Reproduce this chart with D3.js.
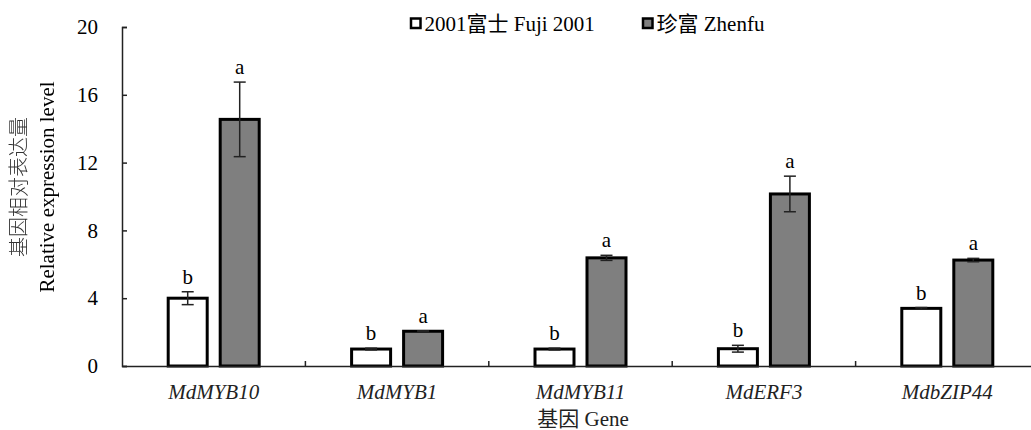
<!DOCTYPE html>
<html>
<head>
<meta charset="utf-8">
<script src="https://cdn.jsdelivr.net/npm/d3@7"></script>
<style>
  html, body { margin: 0; padding: 0; background: #fff; }
  svg { display: block; }
  .gray { filter: grayscale(100%); }
</style>
</head>
<body>
<svg id="chart" width="1031" height="430"></svg>
<script>
const categories = ["MdMYB10", "MdMYB1", "MdMYB11", "MdERF3", "MdbZIP44"];
const seriesNames = ["2001富士 Fuji 2001", "珍富 Zhenfu"];
const fujiValues = [4.0, 1.0, 1.0, 1.02, 3.4];
const fujiErrors = [0.38, 0.05, 0.05, 0.2, 0.05];
const zhenfuValues = [14.55, 2.05, 6.38, 10.15, 6.25];
const zhenfuErrors = [2.2, 0.03, 0.15, 1.05, 0.1];
const fujiLetters = ["b", "b", "b", "b", "b"];
const zhenfuLetters = ["a", "a", "a", "a", "a"];
const yTicks = [0, 4, 8, 12, 16, 20];
const yTitleCn = "基因相对表达量";
const yTitleEn = "Relative expression level";
const xTitle = "基因 Gene";

(function () {
const fills = ["#ffffff", "#7f7f7f"];
const svg = d3.select("#chart");
const pl = 122, pr = 1039, pt = 27, pb = 366;
const fs = 21;
const FF = "'Liberation Serif', 'Times New Roman', 'Noto Sans CJK SC', serif";

const y = d3.scaleLinear().domain([0, 20]).range([pb, pt]);
const x0 = d3.scaleBand().domain(categories).range([pl, pr]).padding(0);
const bw = x0.bandwidth();
const x1 = d3.scaleBand().domain([0, 1]).range([bw / 2 - 47, bw / 2 + 47]).paddingInner(10 / 52).paddingOuter(0);

const data = [];
categories.forEach((c, i) => {
  data.push({cat: c, s: 0, v: fujiValues[i], e: fujiErrors[i], l: fujiLetters[i]});
  data.push({cat: c, s: 1, v: zhenfuValues[i], e: zhenfuErrors[i], l: zhenfuLetters[i]});
});

// bars
const sw = 3;
svg.append("g").selectAll("rect").data(data).join("rect")
  .attr("x", d => x0(d.cat) + x1(d.s) + sw / 2)
  .attr("width", x1.bandwidth() - sw)
  .attr("y", d => y(d.v))
  .attr("height", d => y(0) - y(d.v))
  .attr("fill", d => fills[d.s])
  .attr("stroke", "#000")
  .attr("stroke-width", sw);

// error bars
const eg = svg.append("g").attr("stroke", "#222").attr("stroke-width", 1.5);
data.forEach(d => {
  const cx = x0(d.cat) + x1(d.s) + x1.bandwidth() / 2;
  eg.append("line").attr("x1", cx).attr("x2", cx).attr("y1", y(d.v + d.e)).attr("y2", y(d.v - d.e));
  eg.append("line").attr("x1", cx - 6).attr("x2", cx + 6).attr("y1", y(d.v + d.e)).attr("y2", y(d.v + d.e));
  eg.append("line").attr("x1", cx - 6).attr("x2", cx + 6).attr("y1", y(d.v - d.e)).attr("y2", y(d.v - d.e));
});

// letters
svg.append("g").selectAll("text").data(data).join("text")
  .attr("x", d => x0(d.cat) + x1(d.s) + x1.bandwidth() / 2)
  .attr("y", d => y(d.v + d.e) - 8)
  .attr("text-anchor", "middle")
  .style("font-family", FF).style("font-size", fs + "px").attr("fill", "#000")
  .text(d => d.l);

// y axis
const ya = svg.append("g").attr("transform", `translate(${pl},0)`)
  .call(d3.axisLeft(y).tickValues(yTicks).tickSize(-5).tickPadding(24).tickFormat(d3.format("d")));
ya.select(".domain").attr("stroke", "#222").attr("stroke-width", 1.5);
ya.selectAll(".tick line").attr("stroke", "#222").attr("stroke-width", 1.5);
ya.selectAll(".tick text").style("font-size", fs + "px").style("font-family", FF).attr("fill", "#000");

// x axis
const xa = svg.append("g").attr("transform", `translate(0,${pb})`)
  .call(d3.axisBottom(x0).tickSize(0).tickPadding(18));
xa.select(".domain").attr("stroke", "#222").attr("stroke-width", 1.5);
xa.selectAll(".tick text").style("font-size", fs + "px").style("font-family", FF)
  .style("font-style", "italic").attr("fill", "#222");
// category boundary ticks (inward)
svg.append("g").attr("stroke", "#222").attr("stroke-width", 1.5)
  .selectAll("line").data(categories.slice(1)).join("line")
  .attr("x1", d => x0(d)).attr("x2", d => x0(d))
  .attr("y1", pb).attr("y2", pb - 5);

// axis titles
svg.append("text").attr("x", 583).attr("y", 426).attr("text-anchor", "middle")
  .style("font-family", FF).style("font-size", fs + "px").attr("fill", "#222").text(xTitle);
const yt = svg.append("g").attr("class", "gray").attr("transform", "translate(0,187) rotate(-90)");
yt.append("text").attr("x", 0).attr("y", 26).attr("text-anchor", "middle")
  .style("font-family", "'Noto Sans CJK SC', sans-serif").style("font-size", "20px").style("font-weight", "300")
  .attr("fill", "#333").text(yTitleCn);
yt.append("text").attr("x", 0).attr("y", 54).attr("text-anchor", "middle")
  .style("font-family", FF).style("font-size", fs + "px").attr("fill", "#000").text(yTitleEn);

// legend
const legX = [410, 642];
const lg = svg.append("g");
seriesNames.forEach((n, i) => {
  lg.append("rect").attr("x", legX[i] + 1).attr("y", 18.5).attr("width", 9.5).attr("height", 9.5)
    .attr("fill", fills[i]).attr("stroke", "#000").attr("stroke-width", 2.5);
  lg.append("text").attr("x", legX[i] + 14.5).attr("y", 31)
    .style("font-family", FF).style("font-size", fs + "px").attr("fill", "#000").text(n);
});
})();
</script>
</body>
</html>
